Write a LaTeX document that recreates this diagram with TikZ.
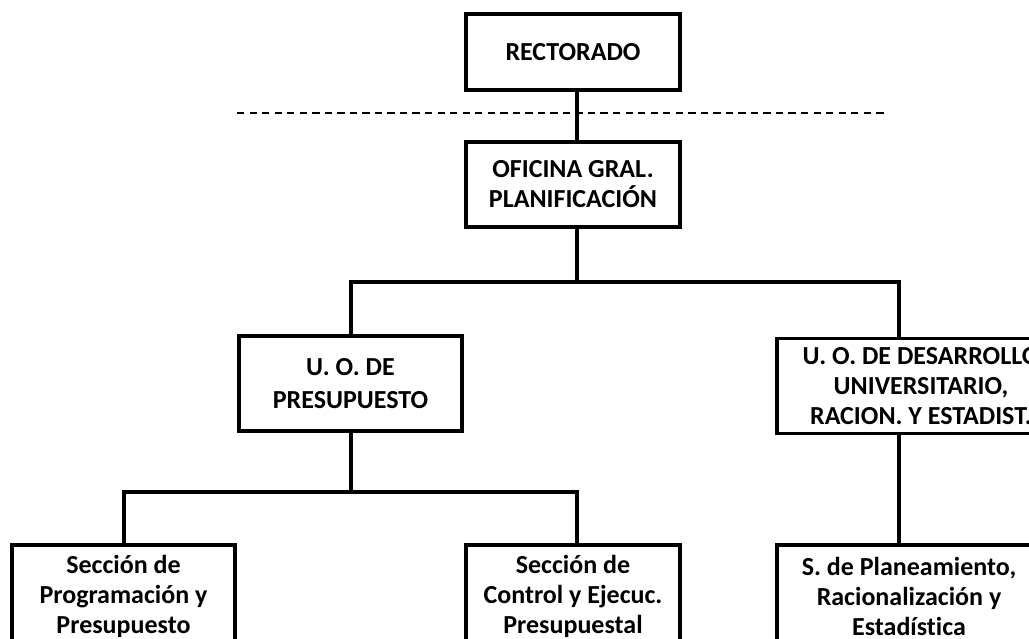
\documentclass[tikz,border=0pt]{standalone}
\usepackage{fontspec}
\setmainfont[Ligatures={NoCommon}]{Carlito}
\begin{document}
\begin{tikzpicture}[x=0.75pt,y=-0.75pt,
  box/.style={draw=black,line width=2.7pt,fill=white,align=center,inner sep=0pt,
    font=\bfseries\fontsize{19.5}{22.5}\selectfont},
  conn/.style={draw=black,line width=2.7pt},
  sep/.style={draw=black,line width=1.7pt,dash pattern=on 5.5pt off 3.9pt}]
\useasboundingbox (0,0) rectangle (1029,639);
\node[box,minimum width=214*0.75pt,minimum height=76*0.75pt] (rect) at (573,52) {RECTORADO};
\node[box,minimum width=214*0.75pt,minimum height=85*0.75pt] (ofi) at (573,184.5) {OFICINA GRAL.\\PLANIFICACIÓN};
\node[box,minimum width=223*0.75pt,minimum height=95*0.75pt,font=\bfseries\fontsize{19.5}{24.5}\selectfont] (pres) at (350.5,383.5) {U. O. DE\\PRESUPUESTO};
\node[box,minimum width=288*0.75pt,minimum height=95*0.75pt] (desa) at (921,386) {U. O. DE DESARROLLO\\UNIVERSITARIO,\\RACION. Y ESTADIST.};
\node[box,minimum width=223*0.75pt,minimum height=103*0.75pt] (prog) at (123.5,596.5) {Sección de\\Programación y\\Presupuesto};
\node[box,minimum width=214*0.75pt,minimum height=103*0.75pt] (ctrl) at (573,596.5) {Sección de\\Control y Ejecuc.\\Presupuestal};
\node[box,minimum width=264*0.75pt,minimum height=103*0.75pt] (plan) at (909,596.5) {S. de Planeamiento,\\Racionalización y\\Estadística};
\coordinate (trunk) at (577,282);
\coordinate (jl) at (351,282);
\coordinate (jr) at (899,282);
\coordinate (tl) at (124,492);
\coordinate (tm) at (351,492);
\coordinate (tr) at (577,492);
\coordinate (dl) at (237,113);
\coordinate (dr) at (888,113);
\draw[sep] (dl) -- (dr);
\draw[conn] (rect.south -| trunk) -- (ofi.north -| trunk);
\draw[conn] (ofi.south -| trunk) -- (trunk);
\draw[conn] (pres.north -| jl) -- (jl) -- (jr) -- (desa.north -| jr);
\draw[conn] (desa.south -| jr) -- (plan.north -| jr);
\draw[conn] (pres.south -| tm) -- (tm);
\draw[conn] (prog.north -| tl) -- (tl) -- (tr) -- (ctrl.north -| tr);
\end{tikzpicture}
\end{document}
